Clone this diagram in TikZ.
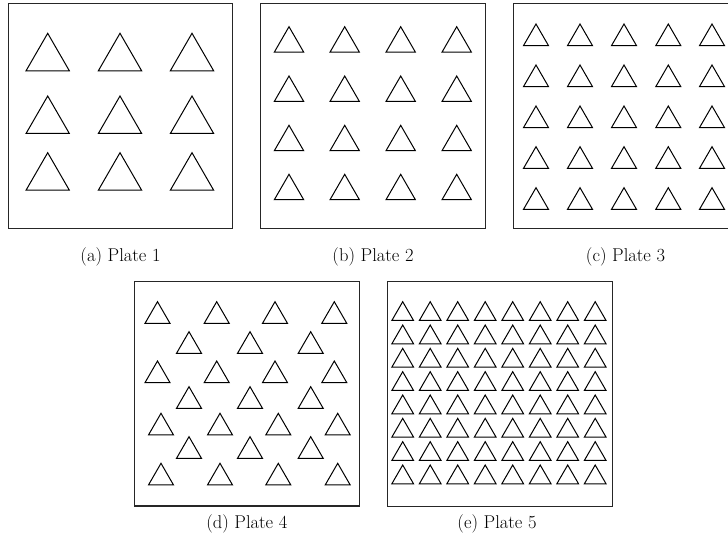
\documentclass[tikz,border=0pt]{standalone}
\begin{document}
\begin{tikzpicture}[x=1pt,y=-1pt,
  plate/.style={draw=black!85, line width=1.1pt},
  tri/.style={draw=black, line width=1pt, line join=miter},
  captext/.style={anchor=base, inner sep=0pt, font=\fontsize{18.5}{21}\selectfont}]
\newcommand{\mytri}[3]{\draw[tri] (#1,#2) -- ++(-#3/2,#3*0.866) -- ++(#3,0) -- cycle;}
\clip (0,0) rectangle (728,548);
\fill[white] (0,0) rectangle (728,548);
% Plate 1
\draw[plate] (8.3,3.3) rectangle (232.7,228.3);
\foreach \y in {33.3,96,152.7}{\foreach \x in {47.7,120,192}{\mytri{\x}{\y}{43.3}}}
\node[captext] (capa) at (120.5,261.7) {(a) Plate 1};
% Plate 2
\draw[plate] (260.7,3.3) rectangle (485.3,228.3);
\foreach \y in {26.7,76,125.3,174.3}{\foreach \x in {289,344.7,400.7,456.7}{\mytri{\x}{\y}{29.3}}}
\node[captext] (capb) at (373,261.7) {(b) Plate 2};
% Plate 3
\draw[plate] (513.3,3.3) rectangle (738.3,228.3);
\foreach \y in {24,65,106,146.7,187.7}{\foreach \x in {536,580,624,668.3,712}{\mytri{\x}{\y}{25}}}
\node[captext] (capc) at (625.5,261.7) {(c) Plate 3};
% Plate 4
\draw[plate] (134.3,281.7) rectangle (359.3,506);
\foreach \y in {301.7,361}{\foreach \x in {157.5,216.7,275,334.3}{\mytri{\x}{\y}{25}}}
\foreach \y in {331.7,386.7,436.7}{\foreach \x in {189,250,310.7}{\mytri{\x}{\y}{25}}}
\foreach \y in {413.3,463.3}{\foreach \x in {161,220,278.3,337.7}{\mytri{\x}{\y}{25}}}
\node[captext] (capd) at (246.8,528.3) {(d) Plate 4};
% Plate 5
\draw[plate] (387.3,281.7) rectangle (612.3,506.7);
\foreach \j in {0,...,7}{\foreach \k in {0,...,7}{\mytri{402.7+27.5*\k}{301.7+23.33*\j}{21.7}}}
\node[captext] (cape) at (497,528.3) {(e) Plate 5};
\end{tikzpicture}
\end{document}
